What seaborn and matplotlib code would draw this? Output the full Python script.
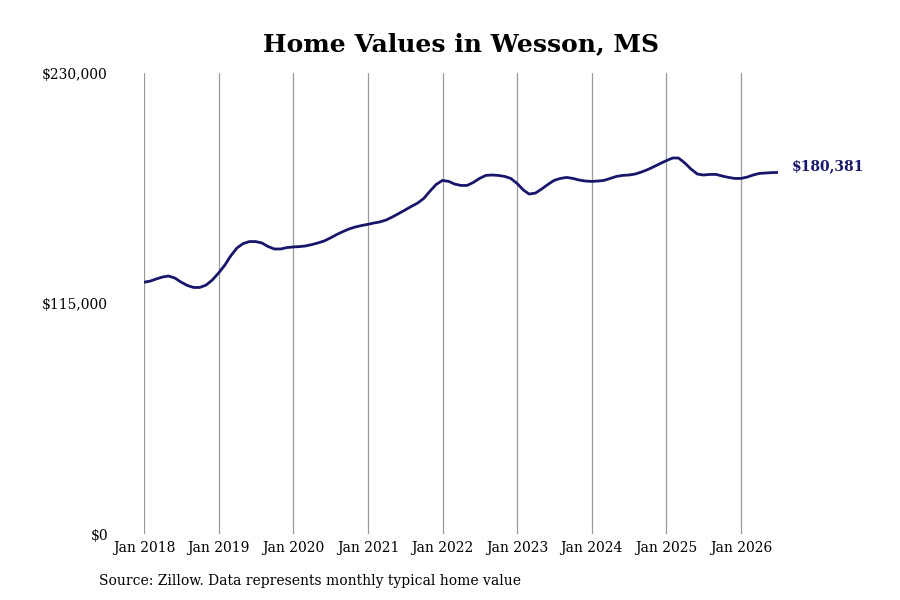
import matplotlib
matplotlib.use("Agg")
import matplotlib.pyplot as plt
import matplotlib.dates as mdates
import seaborn as sns
import pandas as pd
import numpy as np

start_month = "2018-01-01"
values = [
    125600, 126200, 127200, 128200, 128700, 127700, 125700, 124000, 123000, 123000, 124200, 126700,
    130200, 134200, 138700, 142700, 144900, 145900, 145900, 145200, 143400, 142200, 142200, 142900,
    143200, 143400, 143700, 144400, 145200, 146200, 147700, 149400, 150900, 152200, 153200, 153900,
    154500, 155200, 155700, 156700, 158200, 159900, 161600, 163400, 165100, 167400, 171100, 174400,
    176400, 175900, 174600, 173900, 173900, 175400, 177400, 178900, 179100, 178900, 178400, 177400,
    174900, 171600, 169600, 170100, 172100, 174400, 176400, 177400, 177900, 177400, 176600, 176100,
    175900, 176100, 176400, 177400, 178400, 178900, 179100, 179600, 180600, 181800, 183300, 184800,
    186300, 187600, 187600, 185100, 182100, 179600, 179100, 179400, 179400, 178600, 177900, 177400,
    177400, 178100, 179100, 179900, 180100, 180300, 180381,
]
y_ticks = [0, 115000, 230000]
y_tick_labels = ["$0", "$115,000", "$230,000"]
tick_years = list(range(2018, 2027))
title = "Home Values in Wesson, MS"
source = "Source: Zillow. Data represents monthly typical home value"
end_label = "$180,381"

dates = pd.date_range(start_month, periods=len(values), freq="MS")
df = pd.DataFrame({"date": dates, "value": values})

sns.set_theme(style="white")
plt.rcParams["font.family"] = ["DejaVu Serif"]

W, H = 900, 600
fig = plt.figure(figsize=(9, 6), dpi=100)
ax = fig.add_axes([144 / W, 1 - 534 / H, (778 - 144) / W, (534 - 73) / H])

line_color = "#17166b"
sns.lineplot(data=df, x="date", y="value", ax=ax, color=line_color, linewidth=2.0)

ax.set_xlim(dates[0], dates[-1])
ax.set_ylim(0, 230000)
ax.set_xticks([pd.Timestamp(f"{y}-01-01") for y in tick_years])
ax.xaxis.set_major_formatter(mdates.DateFormatter("Jan %Y"))
ax.set_yticks(y_ticks)
ax.set_yticklabels(y_tick_labels)
ax.set_xlabel("")
ax.set_ylabel("")
for s in ax.spines.values():
    s.set_visible(False)
ax.grid(axis="x", color="#9a9a9a", linewidth=0.9)
ax.grid(axis="y", visible=False)
ax.tick_params(axis="x", length=0, pad=5, labelsize=10, colors="black")
ax.tick_params(axis="y", length=0, pad=26, labelsize=10, colors="black")

ax.annotate(end_label, xy=(dates[-1], values[-1]), xytext=(10, 4.3), textcoords="offset points",
            ha="left", va="center", fontsize=10, fontweight="bold", color=line_color,
            annotation_clip=False)

fig.text(460.5 / W, 1 - 44 / H, title, ha="center", va="center", fontsize=18, fontweight="bold", color="black")
fig.text(99 / W, 1 - 581 / H, source, ha="left", va="center", fontsize=10, color="black")

fig.savefig("out.png", dpi=100, facecolor="white")
